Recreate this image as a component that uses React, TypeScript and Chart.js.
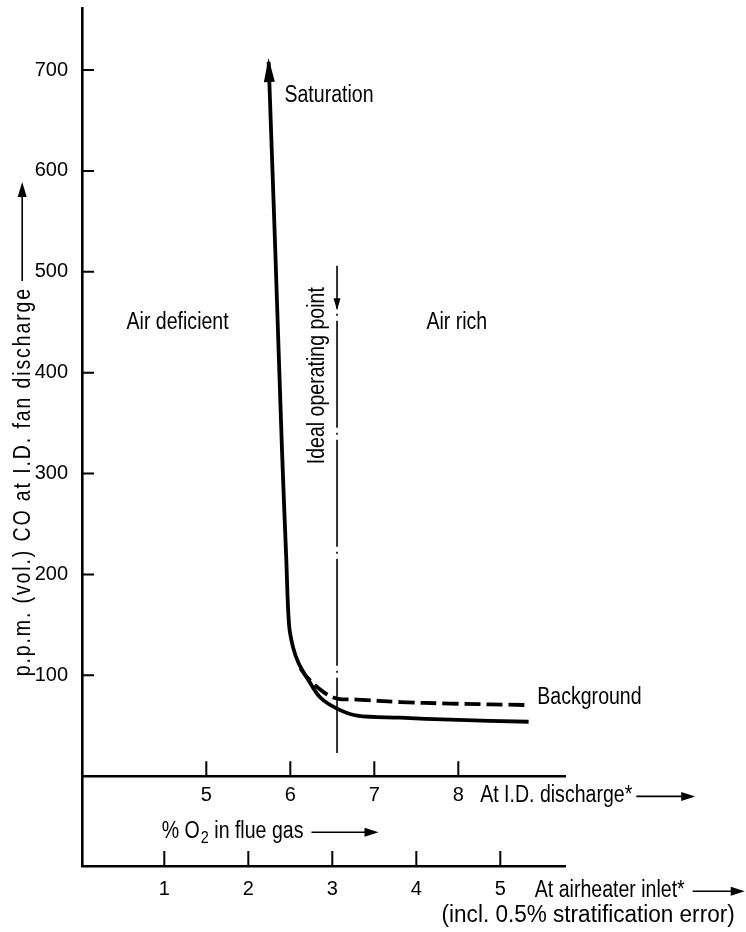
import React, { useEffect, useRef } from "react";
import { Chart, registerables } from "chart.js";

Chart.register(...registerables);

// ---- data ----
// % O2 at I.D. discharge (x) vs p.p.m. CO (y)
const SOLID_O2 = [5.742, 5.821, 5.901, 5.952, 5.985, 6.032, 6.099, 6.218, 6.357, 6.556, 6.794, 7.31, 7.905, 8.837];
const SOLID_PPM = [708, 521, 323, 215, 150, 128, 112, 95, 78, 67, 60, 58, 56, 54];
const BG_O2 = [6.12, 6.2, 6.396, 6.556, 6.794, 7.31, 7.905, 8.837];
const BG_PPM = [107, 98, 83.4, 77, 76, 73.5, 72, 70.5];
const IDEAL_O2 = 6.556;
const IDEAL_PPM = [506, 23];
const IDEAL_ARROW_PPM = 462;

const Y_TICKS = [100, 200, 300, 400, 500, 600, 700];
const ID_TICKS = [5, 6, 7, 8];
const AH_TICKS = [1, 2, 3, 4, 5];
const AH_OFFSET = 3.5; // airheater-inlet % = I.D.-discharge % - 3.5
const X_MIN = 3.52;
const X_MAX = 9.27;
const Y_MIN = -89;
const Y_MAX = 761.5;

const INK = "#000";
const FAMILY = '"Liberation Sans", Arial, sans-serif';
const TEXT_FONT = `23px ${FAMILY}`;
const SUB_FONT = `17px ${FAMILY}`;
const SX = 0.85; // horizontal condensing of annotation text
const DIGIT_FONT = { family: FAMILY, size: 20 };

function arrowHead(ctx: CanvasRenderingContext2D, tx: number, ty: number, dx: number, dy: number, len: number, half: number) {
  const m = Math.hypot(dx, dy) || 1;
  const ux = dx / m, uy = dy / m;
  const bx = tx - ux * len, by = ty - uy * len;
  ctx.beginPath();
  ctx.moveTo(tx, ty);
  ctx.lineTo(bx - uy * half, by + ux * half);
  ctx.lineTo(bx + uy * half, by - ux * half);
  ctx.closePath();
  ctx.fill();
}

// draws condensed text; returns its drawn width
function txt(ctx: CanvasRenderingContext2D, s: string, x: number, y: number, align: CanvasTextAlign = "left", font = TEXT_FONT, rot = 0, sx = SX) {
  ctx.save();
  ctx.font = font;
  ctx.textBaseline = "middle";
  ctx.textAlign = align;
  ctx.translate(x, y);
  if (rot) ctx.rotate(rot);
  ctx.scale(sx, 1);
  ctx.fillText(s, 0, 0);
  const w = ctx.measureText(s).width * sx;
  ctx.restore();
  return w;
}

const overlay = {
  id: "overlay",
  afterDraw(chart: any) {
    const ctx: CanvasRenderingContext2D = chart.ctx;
    const xs = chart.scales.x, ys = chart.scales.y, x2 = chart.scales.x2;
    const px = (v: number) => xs.getPixelForValue(v);
    const py = (v: number) => ys.getPixelForValue(v);
    const { left, bottom } = chart.chartArea;
    ctx.save();
    ctx.fillStyle = INK;
    ctx.strokeStyle = INK;

    // inward tick marks
    ctx.lineWidth = 2;
    ctx.beginPath();
    for (const v of Y_TICKS) { const y = py(v); ctx.moveTo(left, y); ctx.lineTo(left + 12, y); }
    const y0 = py(0);
    for (const v of ID_TICKS) { const x = px(v); ctx.moveTo(x, y0); ctx.lineTo(x, y0 - 15); }
    for (const v of AH_TICKS) { const x = x2.getPixelForValue(v); ctx.moveTo(x, bottom); ctx.lineTo(x, bottom - 15); }
    ctx.stroke();

    // arrowhead on saturation curve
    const sx0 = px(SOLID_O2[0]), sy0 = py(SOLID_PPM[0]);
    const sx1 = px(SOLID_O2[1]), sy1 = py(SOLID_PPM[1]);
    const dx = sx0 - sx1, dy = sy0 - sy1;
    const m = Math.hypot(dx, dy);
    arrowHead(ctx, sx0 + (dx / m) * 4, sy0 + (dy / m) * 4, dx, dy, 24, 5.5);

    // arrowhead on ideal operating point line
    arrowHead(ctx, px(IDEAL_O2), py(IDEAL_ARROW_PPM), 0, 1, 12, 3.5);

    // texts in the plot
    txt(ctx, "Saturation", px(5.93), py(675));
    txt(ctx, "Air deficient", px(4.05), py(450));
    txt(ctx, "Air rich", px(7.62), py(450));
    txt(ctx, "Background", px(8.94), py(78));
    txt(ctx, "Ideal operating point", px(6.33), py(397), "center", TEXT_FONT, -Math.PI / 2);

    ctx.lineWidth = 1.6;
    const textArrow = (x1: number, x2p: number, y: number) => {
      ctx.beginPath();
      ctx.moveTo(x1, y);
      ctx.lineTo(x2p - 8, y);
      ctx.stroke();
      arrowHead(ctx, x2p, y, 1, 0, 14, 4.5);
    };

    // At I.D. discharge*
    {
      const x = px(8.26), y = py(-19);
      const w = txt(ctx, "At I.D. discharge*", x, y);
      textArrow(x + w + 4, px(10.82), y + 1);
    }
    // % O2 in flue gas
    {
      let x = px(4.47);
      const y = py(-54.5);
      x += txt(ctx, "% O", x, y) + 1;
      x += txt(ctx, "2", x, y + 7, "left", SUB_FONT);
      x += txt(ctx, " in flue gas", x, y);
      textArrow(x + 8, px(7.05), y + 1);
    }
    // At airheater inlet*
    {
      const x = x2.getPixelForValue(5.41), y = py(-113);
      const w = txt(ctx, "At airheater inlet*", x, y);
      textArrow(x + w + 8, x2.getPixelForValue(7.91), y + 1);
    }
    // (incl. ...)
    txt(ctx, "(incl. 0.5% stratification error)", x2.getPixelForValue(7.79), py(-138), "right", TEXT_FONT, 0, 0.98);

    // y axis title (rotated) with arrow
    {
      const cx = px(2.82);
      const yStart = py(99);
      const yArrow = py(589);
      ctx.save();
      ctx.translate(cx, yStart);
      ctx.rotate(-Math.PI / 2);
      ctx.font = TEXT_FONT;
      ctx.textBaseline = "middle";
      ctx.textAlign = "left";
      ctx.save();
      ctx.scale(SX, 1);
      (ctx as any).letterSpacing = "2.2px";
      const title = "p.p.m. (vol.) CO at I.D. fan discharge";
      ctx.fillText(title, 0, 0);
      const w = ctx.measureText(title).width * SX;
      ctx.restore();
      const len = yStart - yArrow;
      ctx.lineWidth = 1.6;
      ctx.beginPath();
      ctx.moveTo(w + 6, -1);
      ctx.lineTo(len - 8, -1);
      ctx.stroke();
      arrowHead(ctx, len, -1, 1, 0, 15, 4.5);
      ctx.restore();
    }

    ctx.restore();
  },
};

export default function App() {
  const ref = useRef<HTMLCanvasElement | null>(null);

  useEffect(() => {
    document.body.style.margin = "0";
    const canvas = ref.current;
    if (!canvas) return;
    const chart = new Chart(canvas, {
      type: "line",
      data: {
        datasets: [
          {
            label: "Saturation",
            data: SOLID_O2.map((x, i) => ({ x, y: SOLID_PPM[i] })),
            borderColor: INK,
            borderWidth: 3.8,
            pointRadius: 0,
            tension: 0.35,
            xAxisID: "x",
            yAxisID: "y",
          },
          {
            label: "Background",
            data: BG_O2.map((x, i) => ({ x, y: BG_PPM[i] })),
            borderColor: INK,
            borderWidth: 3.8,
            borderDash: [16, 6],
            pointRadius: 0,
            tension: 0.35,
            xAxisID: "x",
            yAxisID: "y",
          },
          {
            label: "Ideal operating point",
            data: IDEAL_PPM.map((y) => ({ x: IDEAL_O2, y })),
            borderColor: INK,
            borderWidth: 1.6,
            borderDash: [107, 5, 2, 5],
            borderDashOffset: 64,
            pointRadius: 0,
            xAxisID: "x",
            yAxisID: "y",
          },
        ],
      },
      options: {
        animation: false,
        responsive: false,
        devicePixelRatio: 1,
        parsing: false,
        layout: { padding: { top: 8, right: 181, left: 0, bottom: 0 } },
        plugins: { legend: { display: false }, tooltip: { enabled: false }, title: { display: false } },
        scales: {
          x: {
            type: "linear",
            axis: "x",
            position: { y: 0 },
            min: X_MIN,
            max: X_MAX,
            afterBuildTicks: (s: any) => { s.ticks = ID_TICKS.map((value) => ({ value })); },
            afterFit: (s: any) => { s.paddingLeft = 0; s.paddingRight = 0; },
            grid: { display: true, drawOnChartArea: false, drawTicks: false },
            border: { display: true, color: INK, width: 2.6 },
            ticks: { padding: 7, color: INK, font: DIGIT_FONT, maxRotation: 0, autoSkip: false },
          },
          x2: {
            type: "linear",
            axis: "x",
            position: "bottom",
            min: X_MIN - AH_OFFSET,
            max: X_MAX - AH_OFFSET,
            afterBuildTicks: (s: any) => { s.ticks = AH_TICKS.map((value) => ({ value })); },
            afterFit: (s: any) => { s.height = 66; s.paddingLeft = 0; s.paddingRight = 0; },
            grid: { display: true, drawOnChartArea: false, drawTicks: false },
            border: { display: true, color: INK, width: 2.6 },
            ticks: { padding: 11, color: INK, font: DIGIT_FONT, maxRotation: 0, autoSkip: false },
          },
          y: {
            type: "linear",
            position: "left",
            min: Y_MIN,
            max: Y_MAX,
            afterBuildTicks: (s: any) => { s.ticks = Y_TICKS.map((value) => ({ value })); },
            afterFit: (s: any) => { s.width = 82; s.paddingTop = 0; s.paddingBottom = 0; },
            grid: { display: true, drawOnChartArea: false, drawTicks: false },
            border: { display: true, color: INK, width: 2.6 },
            ticks: { padding: 14, color: INK, font: DIGIT_FONT, autoSkip: false },
          },
        },
      } as any,
      plugins: [overlay],
    });
    return () => chart.destroy();
  }, []);

  return (
    <div style={{ width: 746, height: 932, background: "#fff" }}>
      <canvas ref={ref} width={746} height={932} style={{ display: "block" }} />
    </div>
  );
}
